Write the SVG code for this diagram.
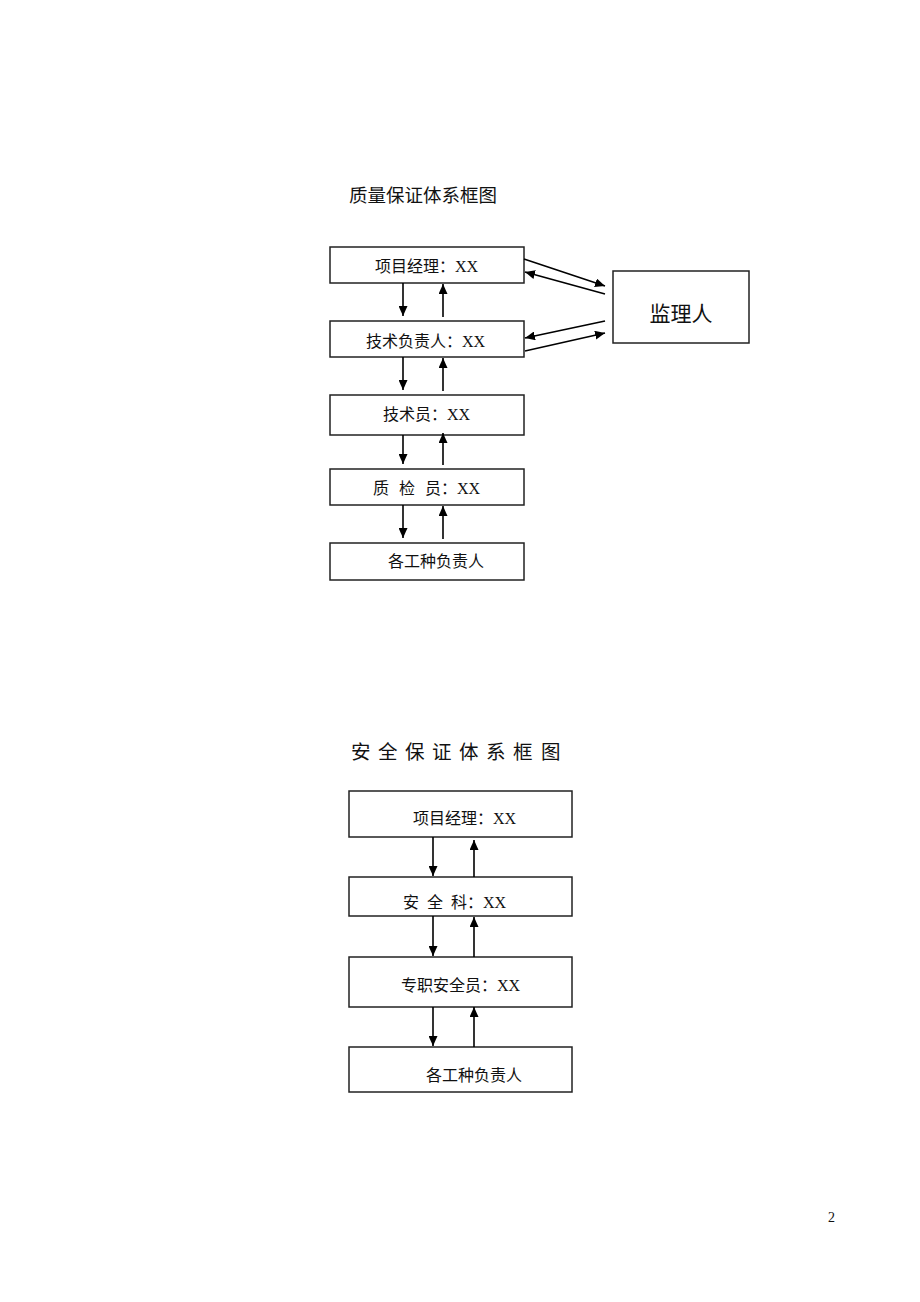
<svg xmlns="http://www.w3.org/2000/svg" width="920" height="1302" viewBox="0 0 920 1302">
<defs>
<marker id="ah" markerUnits="userSpaceOnUse" markerWidth="10" markerHeight="9" refX="10" refY="4.5" orient="auto">
<path d="M0,0 L10,4.5 L0,9 z" fill="#000"/>
</marker>
<style>
.box{fill:#fff;stroke:#222;stroke-width:1.5}
.t{font-family:"Liberation Serif","Noto Sans CJK SC",serif;font-size:16px;fill:#111}
.title{font-family:"Liberation Serif","Noto Sans CJK SC",serif;font-size:18.5px;fill:#111}
.ar{stroke:#000;stroke-width:1.6;fill:none;marker-end:url(#ah)}
</style>
</defs>
<rect width="920" height="1302" fill="#fff"/>

<text class="title" x="349" y="202">质量保证体系框图</text>

<g id="q1"><rect class="box" x="330" y="247" width="194" height="36"/><text class="t" x="375" y="272">项目经理：XX</text></g>
<g id="q2"><rect class="box" x="330" y="321" width="194" height="36"/><text class="t" x="366" y="347">技术负责人：XX</text></g>
<g id="q3"><rect class="box" x="330" y="395" width="194" height="40"/><text class="t" x="383" y="420">技术员：XX</text></g>
<g id="q4"><rect class="box" x="330" y="469" width="194" height="36"/><text class="t" x="373 389 399 415 425" y="494">质 检 员：XX</text></g>
<g id="q5"><rect class="box" x="330" y="543" width="194" height="37"/><text class="t" x="388" y="567">各工种负责人</text></g>
<g id="sup"><rect class="box" x="613" y="271" width="136" height="72"/><text class="t" x="681" y="321" text-anchor="middle" style="font-size:21px">监理人</text></g>

<text class="title" x="351 369.5 378 396.5 405 423.5 432 450.5 459 477.5 486 504.5 513 531.5 541" y="759" style="font-size:19.5px">安 全 保 证 体 系 框 图</text>

<g id="s1"><rect class="box" x="349" y="791" width="223" height="46"/><text class="t" x="413" y="824">项目经理：XX</text></g>
<g id="s2"><rect class="box" x="349" y="877" width="223" height="39"/><text class="t" x="403 419 427 443 451" y="908">安 全 科：XX</text></g>
<g id="s3"><rect class="box" x="349" y="957" width="223" height="50"/><text class="t" x="401" y="991">专职安全员：XX</text></g>
<g id="s4"><rect class="box" x="349" y="1047" width="223" height="45"/><text class="t" x="426" y="1081">各工种负责人</text></g>

<g id="connectors">
<line class="ar" x1="403" y1="283" x2="403" y2="316"/>
<line class="ar" x1="443" y1="317" x2="443" y2="284"/>
<line class="ar" x1="403" y1="357" x2="403" y2="390"/>
<line class="ar" x1="443" y1="391" x2="443" y2="358"/>
<line class="ar" x1="403" y1="435" x2="403" y2="464"/>
<line class="ar" x1="443" y1="465" x2="443" y2="433"/>
<line class="ar" x1="403" y1="505" x2="403" y2="538"/>
<line class="ar" x1="443" y1="539" x2="443" y2="506"/>
<line class="ar" x1="524" y1="259" x2="605" y2="286"/>
<line class="ar" x1="605" y1="294" x2="525" y2="272"/>
<line class="ar" x1="605" y1="321" x2="525" y2="338"/>
<line class="ar" x1="525" y1="351" x2="605" y2="333"/>
<line class="ar" x1="433" y1="837" x2="433" y2="876"/>
<line class="ar" x1="474" y1="877" x2="474" y2="840"/>
<line class="ar" x1="433" y1="916" x2="433" y2="956"/>
<line class="ar" x1="474" y1="957" x2="474" y2="917"/>
<line class="ar" x1="433" y1="1007" x2="433" y2="1046"/>
<line class="ar" x1="474" y1="1047" x2="474" y2="1007"/>
</g>

<text x="828" y="1222" style="font-family:'Liberation Serif',serif;font-size:14px;fill:#111">2</text>
</svg>
